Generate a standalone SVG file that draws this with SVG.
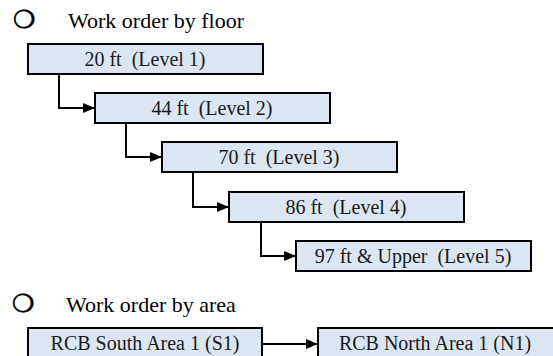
<svg xmlns="http://www.w3.org/2000/svg" width="553" height="356" viewBox="0 0 553 356">
  <style>
    .box { fill: #dce6f2; stroke: #000; stroke-width: 2; }
    .lbl { font-family: "Liberation Serif", "Times New Roman", serif; font-size: 20px; fill: #1a1a1a; text-anchor: middle; }
    .head { font-family: "Liberation Serif", "Times New Roman", serif; font-size: 22px; fill: #000; }
    .bullet { font-family: "DejaVu Sans", sans-serif; font-size: 25px; fill: #000; stroke: #000; stroke-width: 0.7; }
    .wire { fill: none; stroke: #000; stroke-width: 2; }
  </style>
  <defs>
    <marker id="arrow" viewBox="0 0 12 10" refX="12" refY="5" markerWidth="12" markerHeight="10" markerUnits="userSpaceOnUse" orient="auto">
      <path d="M0,0 L12,5 L0,10 Z" fill="#000"/>
    </marker>
  </defs>

  <!-- section headings -->
  <g id="heading-floor">
    <text class="bullet" x="13" y="28">❍</text>
    <text class="head" x="68" y="28">Work order by floor</text>
  </g>
  <g id="heading-area">
    <text class="bullet" x="12" y="312">❍</text>
    <text class="head" x="66" y="312">Work order by area</text>
  </g>

  <!-- floor sequence -->
  <g id="level1">
    <rect class="box" x="28" y="44" width="235" height="30"/>
    <text class="lbl" x="145" y="66" xml:space="preserve">20 ft  (Level 1)</text>
  </g>
  <g id="level2">
    <rect class="box" x="95" y="93" width="235" height="30"/>
    <text class="lbl" x="212" y="115" xml:space="preserve">44 ft  (Level 2)</text>
  </g>
  <g id="level3">
    <rect class="box" x="162" y="142" width="235" height="30"/>
    <text class="lbl" x="279" y="164" xml:space="preserve">70 ft  (Level 3)</text>
  </g>
  <g id="level4">
    <rect class="box" x="229" y="192" width="235" height="30"/>
    <text class="lbl" x="346" y="214" xml:space="preserve">86 ft  (Level 4)</text>
  </g>
  <g id="level5">
    <rect class="box" x="296" y="241" width="235" height="30"/>
    <text class="lbl" x="413" y="263" xml:space="preserve">97 ft &amp; Upper  (Level 5)</text>
  </g>

  <!-- area sequence -->
  <g id="south1">
    <rect class="box" x="28" y="328" width="234" height="34"/>
    <text class="lbl" x="145" y="350">RCB South Area 1 (S1)</text>
  </g>
  <g id="north1">
    <rect class="box" x="318" y="328" width="236" height="34"/>
    <text class="lbl" x="435" y="350">RCB North Area 1 (N1)</text>
  </g>

  <!-- connectors -->
  <g id="connectors">
    <path class="wire" d="M59,74 V108 H95" marker-end="url(#arrow)"/>
    <path class="wire" d="M126,123 V157 H162" marker-end="url(#arrow)"/>
    <path class="wire" d="M193,172 V207 H229" marker-end="url(#arrow)"/>
    <path class="wire" d="M261,222 V256 H296" marker-end="url(#arrow)"/>
    <path class="wire" d="M262,344 H318" marker-end="url(#arrow)"/>
  </g>
</svg>
